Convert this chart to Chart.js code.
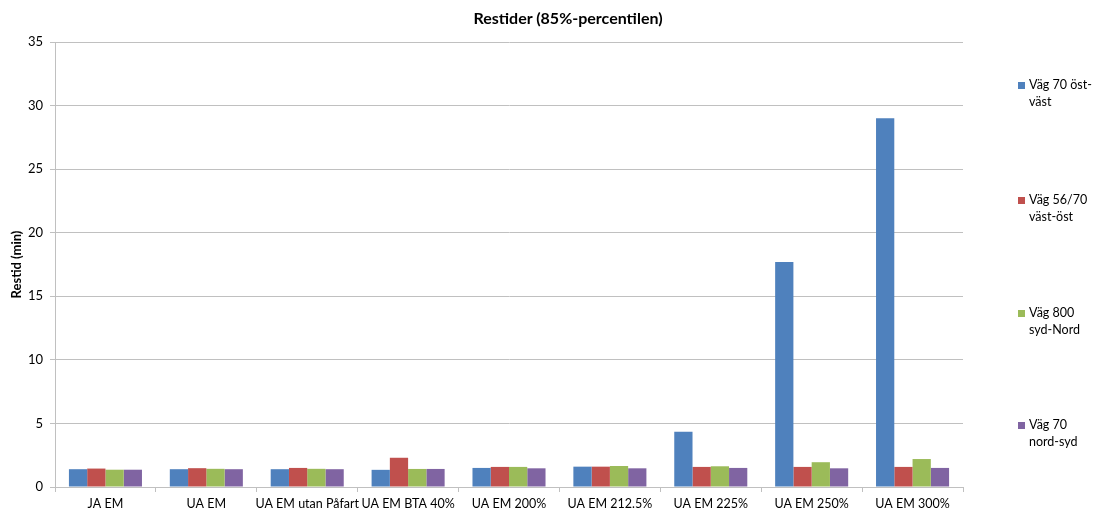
<!DOCTYPE html>
<html>
<head>
<meta charset="utf-8">
<script src="https://cdn.jsdelivr.net/npm/chart.js@4"></script>
<style>
  html, body { margin: 0; padding: 0; background: #fff; }
  #wrap { position: relative; width: 1095px; height: 510px; font-family: Lato, "Open Sans", sans-serif; }
  #c { position: absolute; left: 0; top: 0; }
  #title { position: absolute; left: 268px; width: 600px; top: 8px; text-align: center; font-weight: bold; font-size: 16px; line-height: 20px; color: #000; }
  .lg { position: absolute; left: 1018px; font-size: 12.5px; line-height: 16.5px; color: #000; }
  .lg .sw { position: absolute; left: 0; top: 5px; width: 7px; height: 7px; }
  .lg .tx { margin-left: 11px; white-space: nowrap; }
</style>
</head>
<body>
<div id="wrap">
  <canvas id="c" width="1095" height="510"></canvas>
  <div id="title"></div>
  <div id="legend"></div>
</div>
<script>
const chartTitle = "Restider (85%-percentilen)";
const yAxisTitle = "Restid (min)";
const categories = ["JA EM", "UA EM", "UA EM utan Påfart", "UA EM BTA 40%", "UA EM 200%", "UA EM 212.5%", "UA EM 225%", "UA EM 250%", "UA EM 300%"];
const seriesNames = ["Väg 70 öst-väst", "Väg 56/70 väst-öst", "Väg 800 syd-Nord", "Väg 70 nord-syd"];
const legendLines = [["Väg 70 öst-", "väst"], ["Väg 56/70", "väst-öst"], ["Väg 800", "syd-Nord"], ["Väg 70", "nord-syd"]];
const vag70OstVast = [1.40, 1.40, 1.40, 1.35, 1.50, 1.60, 4.35, 17.7, 29.0];
const vag5670VastOst = [1.45, 1.48, 1.50, 2.30, 1.58, 1.60, 1.58, 1.58, 1.58];
const vag800SydNord = [1.36, 1.43, 1.43, 1.42, 1.58, 1.65, 1.63, 1.95, 2.20];
const vag70NordSyd = [1.36, 1.40, 1.40, 1.42, 1.47, 1.47, 1.50, 1.47, 1.50];
const yTicks = [0, 5, 10, 15, 20, 25, 30, 35];
const colors = ["#4F81BD", "#C0504D", "#9BBB59", "#8064A2"];
const seriesValues = [vag70OstVast, vag5670VastOst, vag800SydNord, vag70NordSyd];

document.getElementById('title').textContent = chartTitle;

const legendTops = [77, 192, 305, 417];
const lg = document.getElementById('legend');
legendLines.forEach((lines, i) => {
  const d = document.createElement('div');
  d.className = 'lg';
  d.style.top = legendTops[i] + 'px';
  const sw = document.createElement('div');
  sw.className = 'sw';
  sw.style.background = colors[i];
  d.appendChild(sw);
  lines.forEach(t => {
    const l = document.createElement('div');
    l.className = 'tx';
    l.textContent = t;
    d.appendChild(l);
  });
  lg.appendChild(d);
});

const gridColor = '#c0c0c0';
new Chart(document.getElementById('c'), {
  type: 'bar',
  data: {
    labels: categories,
    datasets: seriesNames.map((n, i) => ({
      label: n,
      data: seriesValues[i],
      backgroundColor: colors[i],
      borderWidth: 0,
      categoryPercentage: 0.724,
      barPercentage: 1.0
    }))
  },
  options: {
    responsive: false,
    animation: false,
    layout: { padding: { left: 0, right: 132, top: 42, bottom: 0 } },
    plugins: {
      legend: { display: false },
      title: { display: false },
      tooltip: { enabled: false }
    },
    scales: {
      x: {
        afterFit: s => { s.height = 23; },
        grid: { drawOnChartArea: false, drawTicks: true, tickLength: 5, color: gridColor, offset: true },
        border: { color: gridColor, width: 1 },
        ticks: { autoSkip: false, maxRotation: 0, minRotation: 0, padding: 4, color: '#000', font: { family: 'Lato', size: 12.5 } }
      },
      y: {
        min: 0, max: 35,
        afterFit: s => { s.width = 55; },
        afterBuildTicks: s => { s.ticks = yTicks.map(v => ({ value: v })); },
        grid: { color: gridColor, lineWidth: 1, drawTicks: true, tickLength: 5 },
        border: { color: gridColor, width: 1 },
        ticks: { padding: 7, color: '#000', font: { family: 'Lato', size: 13 } },
        title: { display: true, text: yAxisTitle, color: '#000', padding: { top: 9, bottom: 0 }, font: { family: 'Lato', size: 13, weight: 'bold' } }
      }
    }
  }
});
</script>
</body>
</html>
